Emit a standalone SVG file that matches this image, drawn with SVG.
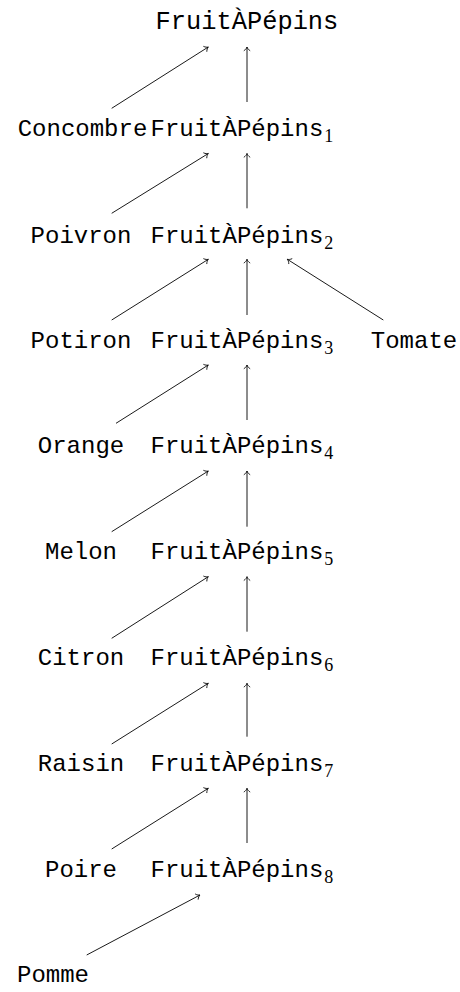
<svg xmlns="http://www.w3.org/2000/svg" width="460" height="992" viewBox="0 0 460 992">
<style>
text{font-family:"Liberation Mono","DejaVu Sans Mono",monospace;font-size:24px;fill:#000}
.top{font-size:25.4px}
.lab{text-anchor:middle}
.sub{font-family:"Liberation Serif","DejaVu Serif",serif;font-size:18px}
.e line{stroke:#000;stroke-width:0.9;fill:none;marker-end:url(#arr)}
</style>
<defs>
<marker id="arr" viewBox="-5 -4 6 8" refX="0" refY="0" markerWidth="6" markerHeight="8" markerUnits="userSpaceOnUse" orient="auto">
<path d="M -3.8 -3.2 C -2.6 -1.3 -1.2 -0.4 0 0 C -1.2 0.4 -2.6 1.3 -3.8 3.2" fill="none" stroke="#000" stroke-width="0.8"/>
</marker>
</defs>
<g id="n0"><text class="top" x="155.5" y="29">FruitÀPépins</text></g>
<g id="n1"><text x="150.5" y="136">FruitÀPépins<tspan class="sub" dx="1" dy="6">1</tspan></text></g>
<g id="n2"><text x="150.5" y="242.5">FruitÀPépins<tspan class="sub" dx="1" dy="6">2</tspan></text></g>
<g id="n3"><text x="150.5" y="347.5">FruitÀPépins<tspan class="sub" dx="1" dy="6">3</tspan></text></g>
<g id="n4"><text x="150.5" y="453">FruitÀPépins<tspan class="sub" dx="1" dy="6">4</tspan></text></g>
<g id="n5"><text x="150.5" y="559">FruitÀPépins<tspan class="sub" dx="1" dy="6">5</tspan></text></g>
<g id="n6"><text x="150.5" y="665">FruitÀPépins<tspan class="sub" dx="1" dy="6">6</tspan></text></g>
<g id="n7"><text x="150.5" y="771">FruitÀPépins<tspan class="sub" dx="1" dy="6">7</tspan></text></g>
<g id="n8"><text x="150.5" y="877">FruitÀPépins<tspan class="sub" dx="1" dy="6">8</tspan></text></g>
<g id="concombre"><text class="lab" x="82.5" y="136">Concombre</text></g>
<g id="poivron"><text class="lab" x="81" y="242.5">Poivron</text></g>
<g id="potiron"><text class="lab" x="81" y="347.5">Potiron</text></g>
<g id="tomate"><text class="lab" x="414" y="347.5">Tomate</text></g>
<g id="orange"><text class="lab" x="81" y="453">Orange</text></g>
<g id="melon"><text class="lab" x="81" y="559">Melon</text></g>
<g id="citron"><text class="lab" x="81" y="665">Citron</text></g>
<g id="raisin"><text class="lab" x="81" y="771">Raisin</text></g>
<g id="poire"><text class="lab" x="81" y="877">Poire</text></g>
<g id="pomme"><text class="lab" x="53" y="982">Pomme</text></g>
<g id="edges" class="e">
<line x1="111.7" y1="108.3" x2="208.3" y2="47"/>
<line x1="247" y1="102" x2="247" y2="47"/>
<line x1="111.7" y1="213.3" x2="208.3" y2="153.5"/>
<line x1="247" y1="208.3" x2="247" y2="153.5"/>
<line x1="111.7" y1="320" x2="208.3" y2="259.3"/>
<line x1="247" y1="315" x2="247" y2="259.3"/>
<line x1="383.3" y1="320" x2="287.3" y2="259.3"/>
<line x1="116" y1="423.3" x2="208.3" y2="365"/>
<line x1="247" y1="420" x2="247" y2="365"/>
<line x1="111.7" y1="531.7" x2="208.3" y2="471"/>
<line x1="247" y1="526.7" x2="247" y2="471"/>
<line x1="111.7" y1="638.3" x2="208.3" y2="576.7"/>
<line x1="247" y1="631.7" x2="247" y2="576.7"/>
<line x1="111.7" y1="744" x2="208.3" y2="683.3"/>
<line x1="247" y1="736.7" x2="247" y2="683.3"/>
<line x1="111.7" y1="849" x2="208.3" y2="788.3"/>
<line x1="247" y1="843" x2="247" y2="788.3"/>
<line x1="86.7" y1="955" x2="200" y2="895"/>
</g>
</svg>
